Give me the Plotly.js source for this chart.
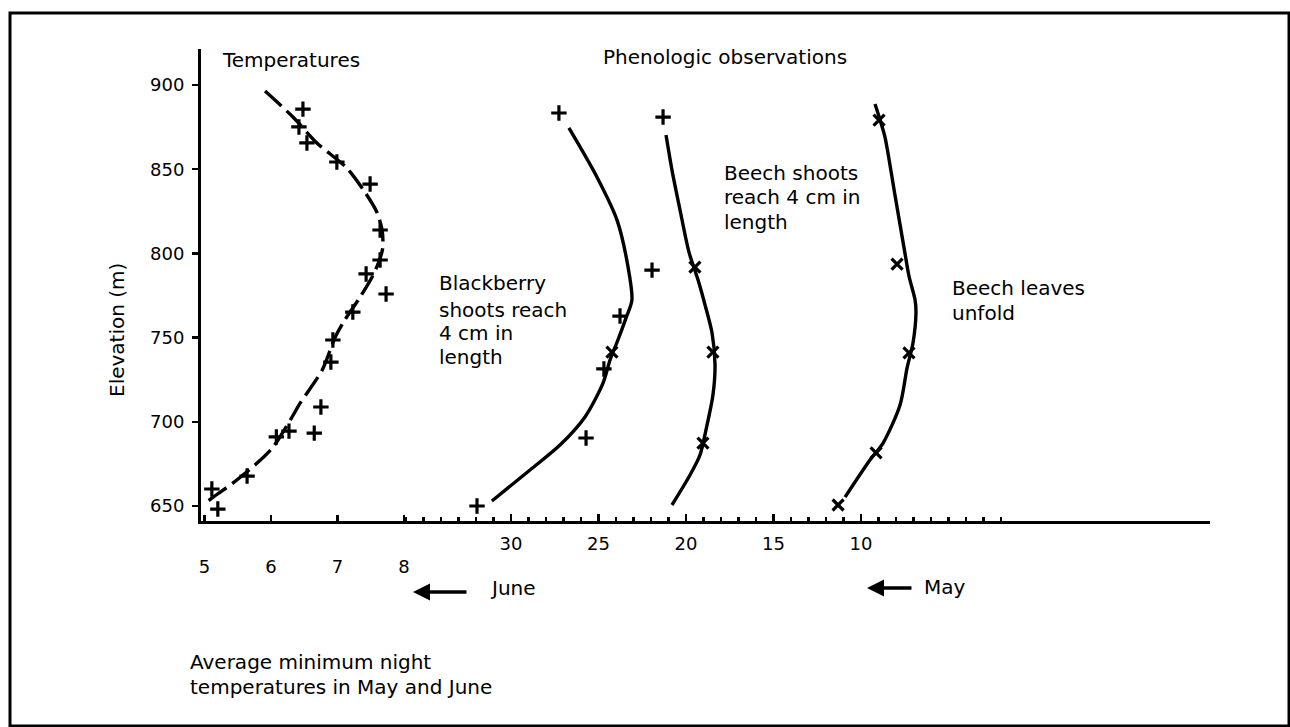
<!DOCTYPE html>
<html><head><meta charset="utf-8">
<script src="https://cdn.plot.ly/plotly-3.0.1.min.js"></script>
<style>html,body{margin:0;padding:0;background:#fff}#chart{width:1290px;height:727px}</style>
</head><body><div id="chart"></div>
<script>
// ---- axes / ticks ----
const elevTicks = [650, 700, 750, 800, 850, 900];
const tempTicks = [5, 6, 7, 8];
const dayTicks = [30, 25, 20, 15, 10];
const dayMinorTicks = [2,3,4,5,6,7,8,9,10,11,12,13,14,15,16,17,18,19,20,21,22,23,24,25,26,27,28,29,30,31,32,33,34,35,36];

// ---- temperatures (average minimum night temperature, deg C) ----
const tempCurveT = [5.91, 6.33, 6.69, 7.14, 7.41, 7.59, 7.67, 7.68, 7.62, 7.52, 7.34, 7.11, 6.96, 6.77, 6.44, 6.29, 6.03, 5.79, 5.43, 5.13, 4.98];
const tempCurveE = [896.4, 881.0, 865.6, 850.7, 836.5, 824.6, 813.9, 803.2, 794.9, 786.0, 774.1, 760.5, 749.8, 730.8, 711.2, 701.1, 685.0, 675.5, 663.7, 655.3, 650.6];
const tempObsT = [6.48, 6.42, 6.54, 6.99, 7.49, 7.64, 7.64, 7.43, 7.73, 7.23, 6.93, 6.90, 6.75, 6.65, 6.27, 6.08, 5.64, 5.11, 5.20];
const tempObsE = [885.7, 875.1, 865.6, 854.3, 841.2, 813.9, 796.1, 787.8, 775.9, 765.2, 748.6, 735.5, 708.8, 693.3, 694.5, 691.0, 667.8, 660.1, 648.2];

// ---- blackberry shoots reach 4 cm (day) ----
const blackCurveDay = [26.69, 25.09, 23.94, 23.31, 23.09, 23.43, 23.89, 24.34, 24.74, 25.77, 27.20, 28.91, 31.09];
const blackCurveE = [874.5, 845.4, 819.8, 791.9, 772.3, 761.6, 748.6, 736.7, 723.0, 702.9, 686.2, 671.4, 653.0];
const blackObsDay = [27.26, 21.94, 23.77, 24.23, 24.69, 25.71, 31.94];
const blackObsE = [883.4, 790.1, 762.8, 741.4, 731.4, 690.4, 650.0];

// ---- beech shoots reach 4 cm (day) ----
const shootCurveDay = [21.14, 20.80, 20.34, 19.83, 19.31, 18.91, 18.51, 18.34, 18.46, 18.86, 19.20, 19.77, 20.80];
const shootCurveE = [870.3, 849.5, 825.8, 800.8, 784.2, 769.4, 752.7, 733.7, 715.9, 695.1, 680.3, 668.4, 650.6];
const shootObsDay = [21.31, 19.49, 18.46, 19.03];
const shootObsE = [881.0, 791.9, 741.4, 687.4];

// ---- beech leaves unfold (day) ----
const leafCurveDay = [9.20, 8.91, 8.63, 8.06, 7.49, 7.26, 6.91, 6.86, 7.03, 7.37, 7.77, 8.74, 9.49, 10.91];
const leafCurveE = [888.7, 879.2, 869.1, 834.7, 800.2, 786.6, 772.3, 764.6, 746.8, 731.9, 710.0, 687.4, 677.3, 655.3];
const leafObsDay = [8.97, 7.94, 7.26, 9.14, 11.31];
const leafObsE = [879.2, 793.7, 740.9, 681.5, 650.6];

const FONT = 'DejaVu Sans, Liberation Sans, Arial, sans-serif';
const INK = '#000';

function curve(x, y, xa, extra) {
  return Object.assign({x: x, y: y, xaxis: xa, yaxis: 'y', mode: 'lines', hoverinfo: 'skip',
    line: {color: INK, width: 3.4, shape: 'spline', smoothing: 0.8}}, extra || {});
}
function obs(x, y, xa, symbols) {
  return {x: x, y: y, xaxis: xa, yaxis: 'y', mode: 'markers', hoverinfo: 'skip',
    marker: {symbol: symbols, size: 11, color: INK, line: {color: INK, width: 3.2}}};
}

const traces = [
  curve(tempCurveT, tempCurveE, 'x2', {line: {color: INK, width: 3.4, dash: '22px,7px', shape: 'spline', smoothing: 0.8}}),
  obs(tempObsT, tempObsE, 'x2', 'cross-thin'),
  curve(blackCurveDay, blackCurveE, 'x'),
  obs(blackObsDay, blackObsE, 'x', ['cross-thin','cross-thin','cross-thin','x-thin','cross-thin','cross-thin','cross-thin']),
  curve(shootCurveDay, shootCurveE, 'x'),
  obs(shootObsDay, shootObsE, 'x', ['cross-thin','x-thin','x-thin','x-thin']),
  curve(leafCurveDay, leafCurveE, 'x'),
  obs(leafObsDay, leafObsE, 'x', 'x-thin')
];

// paper helpers (plot area: x 201..1210, y 49..521 px)
const PX = p => (p - 201) / 1009;
const PY = p => (521 - p) / 472;

function txt(text, xpx, ypx, opts) {
  return Object.assign({text: text, x: PX(xpx), y: PY(ypx), xref: 'paper', yref: 'paper',
    showarrow: false, xanchor: 'left', yanchor: 'middle', align: 'left',
    font: {family: FONT, size: 20, color: INK}}, opts || {});
}
function arrow(headX, tailX, ypx) {
  return {text: '', x: PX(headX), y: PY(ypx), xref: 'paper', yref: 'paper',
    showarrow: true, ax: tailX - headX, ay: 0, arrowhead: 2, arrowsize: 1, arrowwidth: 3.4,
    arrowcolor: INK, standoff: 0, startstandoff: 0};
}

const layout = {
  width: 1290, height: 727,
  margin: {l: 201, r: 80, t: 49, b: 206, pad: 0},
  paper_bgcolor: '#fff', plot_bgcolor: '#fff',
  showlegend: false,
  font: {family: FONT, size: 18, color: INK},
  xaxis: {
    range: [47.71, -9.94], tickmode: 'array', tickvals: dayTicks, ticktext: dayTicks.map(String),
    ticks: 'inside', ticklen: 7, tickwidth: 2.5, tickcolor: INK,
    showline: true, linewidth: 3, linecolor: INK, showgrid: false, zeroline: false,
    tickfont: {family: FONT, size: 18, color: INK}, ticklabelstandoff: 4,
    minor: {tickmode: 'array', tickvals: dayMinorTicks, ticks: 'inside', ticklen: 4, tickwidth: 2.5, tickcolor: INK, showgrid: false},
    fixedrange: true
  },
  xaxis2: {
    overlaying: 'x', anchor: 'y', side: 'bottom',
    range: [4.947, 20.12], tickmode: 'array', tickvals: tempTicks, ticktext: tempTicks.map(String),
    ticks: 'inside', ticklen: 6, tickwidth: 2.5, tickcolor: INK,
    showline: false, showgrid: false, zeroline: false,
    tickfont: {family: FONT, size: 18, color: INK}, ticklabelstandoff: 33,
    fixedrange: true
  },
  yaxis: {
    range: [641.1, 921.4], tickmode: 'array', tickvals: elevTicks, ticktext: elevTicks.map(String),
    ticks: 'outside', ticklen: 6, tickwidth: 2.5, tickcolor: INK,
    showline: true, linewidth: 3, linecolor: INK, showgrid: false, zeroline: false,
    tickfont: {family: FONT, size: 18, color: INK}, ticklabelstandoff: 4,
    fixedrange: true
  },
  shapes: [
    {type: 'rect', xref: 'paper', yref: 'paper', x0: PX(10), x1: PX(1289), y0: PY(726), y1: PY(13),
     line: {color: INK, width: 3}, fillcolor: 'rgba(0,0,0,0)', layer: 'above'}
  ],
  annotations: [
    txt('Temperatures', 220, 60),
    txt('Phenologic observations', 601, 57),
    txt('Blackberry', 437, 283),
    txt('shoots reach', 437, 310),
    txt('4 cm in', 437, 333),
    txt('length', 437, 357),
    txt('Beech shoots', 722, 173),
    txt('reach 4 cm in', 722, 197),
    txt('length', 722, 222),
    txt('Beech leaves', 950, 288),
    txt('unfold', 950, 313),
    txt('Elevation (m)', 117, 330, {xanchor: 'center', textangle: -90}),
    arrow(413, 468, 592),
    txt('June', 488, 588),
    arrow(867, 913, 588),
    txt('May', 922, 587),
    txt('Average minimum night', 188, 662),
    txt('temperatures in May and June', 188, 687)
  ]
};

Plotly.newPlot('chart', traces, layout, {displayModeBar: false, staticPlot: true});
</script>
</body></html>
